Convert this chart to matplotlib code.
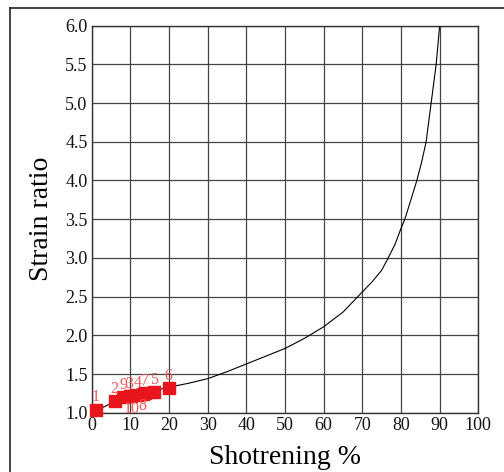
import matplotlib.pyplot as plt
from matplotlib.lines import Line2D

plt.rcParams['font.family'] = ['Liberation Serif', 'DejaVu Serif']

# curve
shortening = [0, 5, 10, 15, 20, 25, 30, 35, 40, 45, 50, 55, 60, 65, 70, 72.5,
              75, 76.7, 78.5, 80, 81, 82.5, 84.1, 85.4, 86.5, 87.8, 89.1, 90]
ratio = [1.0, 1.12, 1.2, 1.27, 1.33, 1.38, 1.44, 1.53, 1.63, 1.73, 1.83, 1.96,
         2.11, 2.30, 2.56, 2.69, 2.84, 3.0, 3.18, 3.38, 3.5, 3.74, 4.0, 4.25,
         4.5, 5.0, 5.5, 6.0]

# samples
sample_ids = ['1', '2', '3', '4', '5', '6', '7', '8', '9', '10']
sample_x = [1.0, 5.9, 9.8, 11.8, 16.1, 19.9, 13.8, 13.2, 8.2, 10.2]
sample_y = [1.04, 1.15, 1.21, 1.23, 1.27, 1.32, 1.25, 1.24, 1.20, 1.21]
label_below = ['10', '8']

xticks = list(range(0, 101, 10))
yticks = [1.0, 1.5, 2.0, 2.5, 3.0, 3.5, 4.0, 4.5, 5.0, 5.5, 6.0]

fig = plt.figure(figsize=(5.04, 4.72), dpi=100)
ax = fig.add_axes([0.182, 0.1256, 0.767, 0.82])

ax.plot(shortening, ratio, color='black', lw=0.8, zorder=3)
ax.plot(sample_x, sample_y, 's', color='#e8161c', ms=8.5, zorder=4, clip_on=False)
for sid, sx, sy in zip(sample_ids, sample_x, sample_y):
    if sid in label_below:
        ax.annotate(sid, (sx, sy), xytext=(0, -3), textcoords='offset points',
                    ha='center', va='top', color='#f05a55', fontsize=11.5,
                    annotation_clip=False, zorder=5)
    else:
        ax.annotate(sid, (sx, sy), xytext=(0, 3), textcoords='offset points',
                    ha='center', va='bottom', color='#f05a55', fontsize=11.5,
                    zorder=5)

ax.set_xlim(0, 100)
ax.set_ylim(1.0, 6.0)
ax.set_xticks(xticks)
ax.set_yticks(yticks)
ax.set_yticklabels(['%.1f' % v for v in yticks])
ax.tick_params(length=0, labelsize=13, pad=3, colors='#111111')
ax.grid(True, color='#444444', lw=0.9)
ax.set_axisbelow(True)
for s in ax.spines.values():
    s.set_color('#333333')
    s.set_linewidth(1.0)

ax.set_xlabel('Shotrening %', fontsize=20, labelpad=8)
ax.set_ylabel('Strain ratio', fontsize=20, labelpad=8)

# outer frame (left and top only)
fig.add_artist(Line2D([10 / 504, 10 / 504], [0, 1 - 8 / 472], color='#222222', lw=1.2))
fig.add_artist(Line2D([10 / 504, 1], [1 - 8 / 472, 1 - 8 / 472], color='#222222', lw=1.2))

fig.savefig('out.png', dpi=100)
